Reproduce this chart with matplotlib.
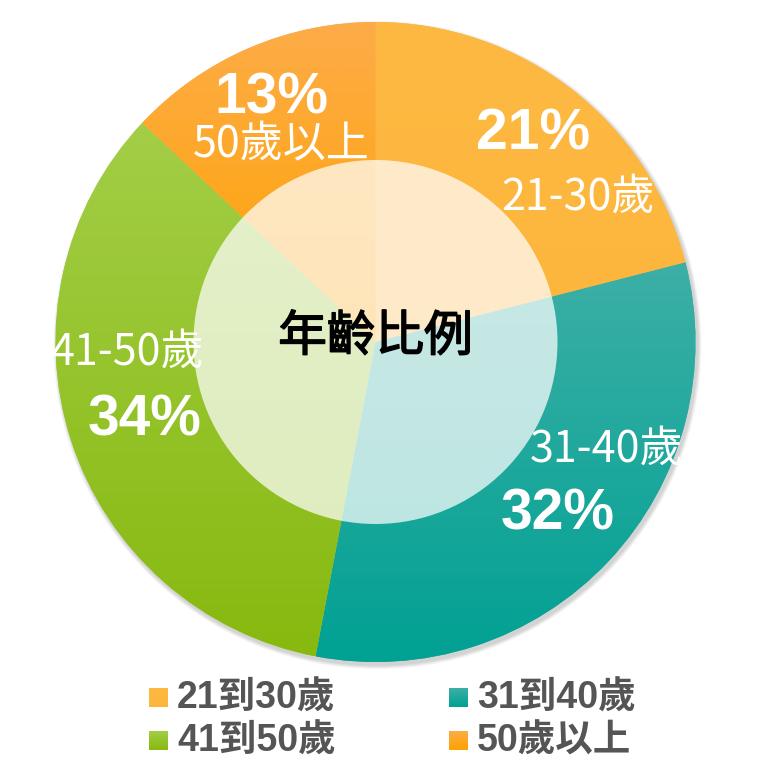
import numpy as np
import matplotlib
matplotlib.use("Agg")
import matplotlib.pyplot as plt
import matplotlib.patheffects as pe
from matplotlib.patches import Circle
from matplotlib.colors import to_rgb

W, H = 767, 774

labels = ["21-30歲", "31-40歲", "41-50歲", "50歲以上"]
values = [21, 32, 34, 13]
legend_labels = ["21到30歲", "31到40歲", "41到50歲", "50歲以上"]
center_title = "年齡比例"

# gradient colours per slice (top, bottom)
grad_top = ["#FDB943", "#3DAFA6", "#A3CE47", "#FDAC48"]
grad_bot = ["#FDB63C", "#00A193", "#87B90F", "#FDA300"]

cx, cy, R, r_in = 375.5, 342, 320, 182

# label positions in pixels: (name, pct)
name_pos = [(578, 198), (607, 450), (127, 353), (281, 145)]
pct_pos = [(533, 134), (558, 515), (145, 421), (271, 98)]

CJK = ["Noto Sans CJK TC", "DejaVu Sans"]
BOLD = ["Liberation Sans", "Noto Sans CJK TC"]


def Y(y):
    return H - y


def gradient(top, bot, n=256):
    t = np.linspace(0, 1, n)[:, None]
    a, b = np.array(to_rgb(bot)), np.array(to_rgb(top))
    return (a + (b - a) * t)[:, None, :]


fig = plt.figure(figsize=(W / 100, H / 100), dpi=100)
ax = fig.add_axes([0, 0, 1, 1])

# soft shadow
for k in range(1, 6):
    ax.add_patch(Circle((cx + 2, Y(cy) - 3), R + k * 0.8, fc="black",
                        ec="none", alpha=0.035, zorder=0))

wedges, _ = ax.pie(values, colors=grad_top, startangle=90, counterclock=False,
                   radius=R, center=(cx, Y(cy)), wedgeprops=dict(linewidth=0))

for w, top, bot in zip(wedges, grad_top, grad_bot):
    v = w.get_path().vertices
    im = ax.imshow(gradient(top, bot), origin="lower", aspect="auto",
                   extent=(v[:, 0].min(), v[:, 0].max(), v[:, 1].min(), v[:, 1].max()),
                   zorder=2, interpolation="bilinear")
    im.set_clip_path(w)

ax.add_patch(Circle((cx, Y(cy)), r_in, fc="white", ec="none", alpha=0.72, zorder=3))

for lab, v, (nx, ny), (px, py) in zip(labels, values, name_pos, pct_pos):
    ax.text(nx, Y(ny), lab, color="white", fontsize=31, family=CJK,
            ha="center", va="center", zorder=5)
    ax.text(px, Y(py), f"{v}%", color="white", fontsize=41, family=BOLD,
            fontweight="bold", ha="center", va="center", zorder=5)

ax.text(cx, Y(337), center_title, color="black", fontsize=35, family=CJK,
        ha="center", va="center", zorder=5,
        path_effects=[pe.withStroke(linewidth=1.1, foreground="black")])

# legend
leg_x = [149, 449]
leg_y = [698, 741]
for i, lab in enumerate(legend_labels):
    lx, ly = leg_x[i % 2], leg_y[i // 2]
    im = ax.imshow(gradient(grad_top[i], grad_bot[i]), origin="lower", aspect="auto",
                   extent=(lx, lx + 19, Y(ly + 9.5), Y(ly - 9.5)), zorder=2)
    ax.text(lx + 28, Y(ly + 1), lab, color="#555555", fontsize=27, family=BOLD,
            fontweight="bold", ha="left", va="center", zorder=5)

ax.set_xlim(0, W)
ax.set_ylim(0, H)
ax.set_aspect("auto")
ax.axis("off")

fig.savefig("out.png", dpi=100)
